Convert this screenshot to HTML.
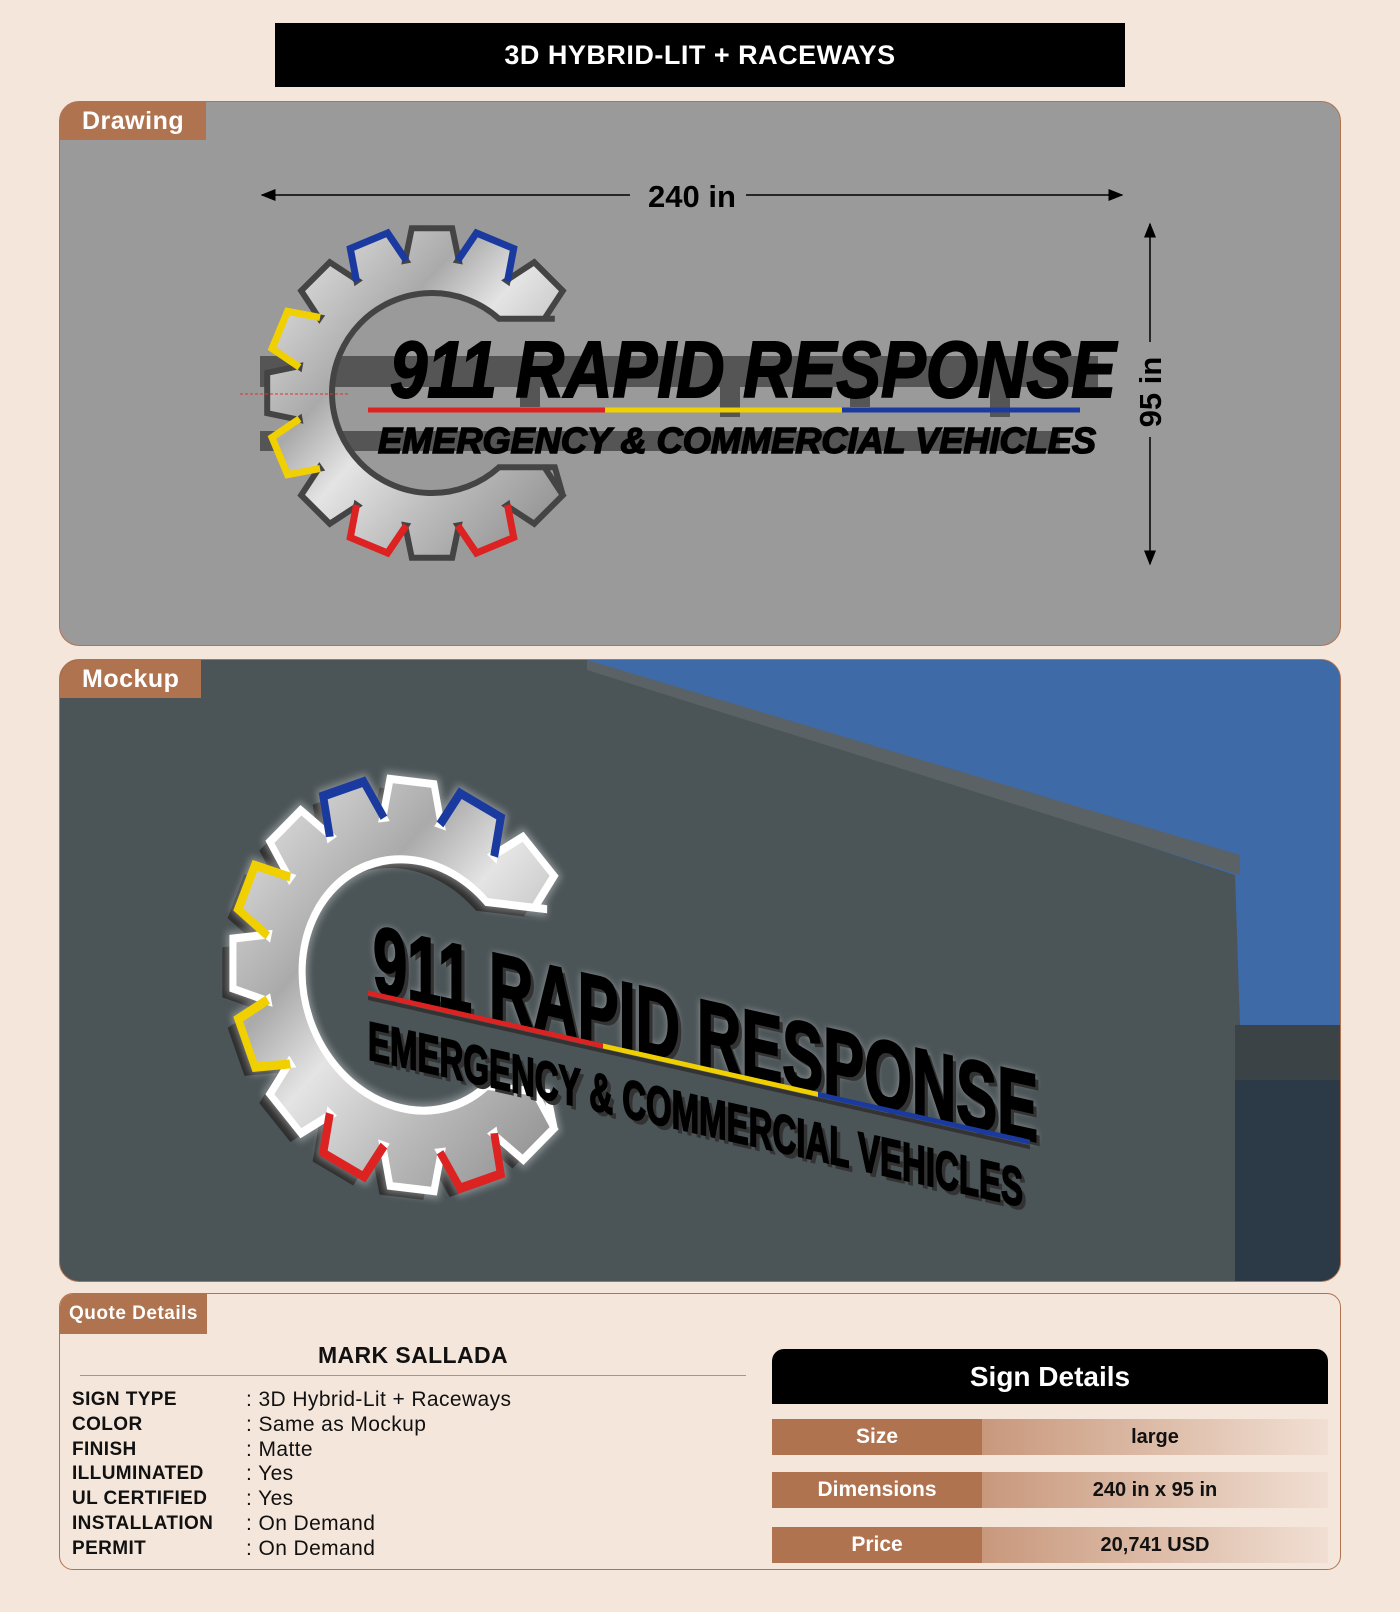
<!DOCTYPE html>
<html><head><meta charset="utf-8">
<style>
body{margin:0;width:1400px;height:1612px;background:#f5e6dc;font-family:"Liberation Sans",sans-serif;position:relative;overflow:hidden}
.title{position:absolute;left:275px;top:23px;width:850px;height:64px;background:#000;color:#fff;font-weight:bold;font-size:27px;text-align:center;line-height:64px;letter-spacing:.5px}
.panel{position:absolute;left:59px;width:1282px;border-radius:20px;overflow:hidden;border:1px solid #b07350;box-sizing:border-box}
.tab{position:absolute;left:0;top:0;background:#b07350;color:#fff;font-weight:bold;font-size:25px;padding:0 22px;height:38px;line-height:38px;z-index:5;letter-spacing:.5px}
.q{position:absolute;font-size:21px;color:#111;letter-spacing:.4px}
.rowL{position:absolute;left:772px;width:210px;height:36px;background:#b07350;color:#fff;font-weight:bold;font-size:21px;text-align:center;line-height:36px}
.rowR{position:absolute;left:982px;width:346px;height:36px;background:linear-gradient(90deg,#c8987c,#f1dfd3);color:#111;font-weight:bold;font-size:20px;text-align:center;line-height:36px}
</style></head><body>
<div class="title">3D HYBRID-LIT + RACEWAYS</div>

<div class="panel" style="top:101px;height:545px;background:#9a9a9a">
<div class="tab">Drawing</div>
<svg width="1282" height="545" style="position:absolute;left:0;top:0">
<defs>
<linearGradient id="sil" x1="0" y1="0" x2="1" y2="1"><stop offset="0" stop-color="#eee"/><stop offset=".35" stop-color="#aaa"/><stop offset=".5" stop-color="#e4e4e4"/><stop offset=".7" stop-color="#bbb"/><stop offset="1" stop-color="#888"/></linearGradient>
<marker id="ar" markerWidth="10" markerHeight="8" refX="9" refY="4" orient="auto"><path d="M0,0L10,4L0,8z" fill="#000"/></marker>
</defs>
<line x1="570" y1="93" x2="202" y2="93" stroke="#000" stroke-width="1.5" marker-end="url(#ar)"/>
<line x1="686" y1="93" x2="1062" y2="93" stroke="#000" stroke-width="1.5" marker-end="url(#ar)"/>
<text x="632" y="105" font-size="31" font-weight="bold" text-anchor="middle">240 in</text>
<line x1="1090" y1="240" x2="1090" y2="122" stroke="#000" stroke-width="1.5" marker-end="url(#ar)"/>
<line x1="1090" y1="335" x2="1090" y2="462" stroke="#000" stroke-width="1.5" marker-end="url(#ar)"/>
<text x="0" y="0" font-size="31" font-weight="bold" text-anchor="middle" transform="translate(1101,290) rotate(-90)">95 in</text>
<rect x="200" y="254" width="838" height="31" fill="#555"/>
<rect x="200" y="329" width="800" height="20" fill="#555"/>
<rect x="460" y="285" width="20" height="20" fill="#555"/>
<rect x="660" y="285" width="20" height="30" fill="#555"/>
<rect x="790" y="285" width="20" height="20" fill="#555"/>
<rect x="930" y="285" width="20" height="30" fill="#555"/>
<g id="gear1"></g>
<line x1="180" y1="292" x2="290" y2="292" stroke="#d33" stroke-dasharray="3,2"/>
<text x="330" y="295" font-size="80" font-weight="bold" font-style="italic" stroke="#000" stroke-width="2" textLength="726" lengthAdjust="spacingAndGlyphs">911 RAPID RESPONSE</text>
<line x1="308" y1="308" x2="545" y2="308" stroke="#d22" stroke-width="5"/>
<line x1="545" y1="308" x2="782" y2="308" stroke="#f0d000" stroke-width="5"/>
<line x1="782" y1="308" x2="1020" y2="308" stroke="#1a3aa0" stroke-width="5"/>
<text x="318" y="351" font-size="36" font-weight="bold" font-style="italic" stroke="#000" stroke-width="1.5" textLength="718" lengthAdjust="spacingAndGlyphs">EMERGENCY &amp; COMMERCIAL VEHICLES</text>
</svg>
</div>

<div class="panel" style="top:659px;height:623px;background:#4b5457">
<div class="tab">Mockup</div>
<svg width="1282" height="623" style="position:absolute;left:0;top:0">
<defs><filter id="glow" x="-20%" y="-20%" width="140%" height="140%"><feGaussianBlur stdDeviation="4"/></filter></defs>
<polygon points="527,0 1282,0 1282,365 1180,365 1175,215" fill="#3e6aa8"/>
<polygon points="527,0 1180,195 1180,215 527,10" fill="#5a6266"/>
<rect x="1175" y="365" width="107" height="258" fill="#3b4347"/>
<rect x="1175" y="420" width="107" height="203" fill="#2c3a48"/>
<g id="gear2"></g>
<g transform="translate(308,333) skewY(12.7)">
<text x="5" y="-2" font-size="96" font-weight="bold" fill="#fff" opacity=".5" filter="url(#glow)" textLength="665" lengthAdjust="spacingAndGlyphs">911 RAPID RESPONSE</text>
<text x="9" y="2" font-size="96" font-weight="bold" fill="#333" textLength="665" lengthAdjust="spacingAndGlyphs">911 RAPID RESPONSE</text>
<text x="5" y="-2" font-size="96" font-weight="bold" stroke="#000" stroke-width="2.5" textLength="665" lengthAdjust="spacingAndGlyphs">911 RAPID RESPONSE</text>
<line x1="0" y1="0" x2="235" y2="0" stroke="#d22" stroke-width="5"/>
<line x1="235" y1="0" x2="450" y2="0" stroke="#f0d000" stroke-width="5"/>
<line x1="450" y1="0" x2="662" y2="0" stroke="#1a3aa0" stroke-width="5"/>
<line x1="0" y1="5" x2="662" y2="5" stroke="#333" stroke-width="4"/>
<text x="0" y="66" font-size="54" font-weight="bold" fill="#333" transform="translate(4,4)" textLength="655" lengthAdjust="spacingAndGlyphs">EMERGENCY &amp; COMMERCIAL VEHICLES</text>
<text x="0" y="66" font-size="54" font-weight="bold" fill="#000" stroke="#000" stroke-width="2" textLength="655" lengthAdjust="spacingAndGlyphs">EMERGENCY &amp; COMMERCIAL VEHICLES</text>
</g>
</svg>
</div>

<div class="panel" style="top:1293px;height:277px;background:#f5e6dc;border-radius:14px">
<div class="tab" style="font-size:19px;height:40px;line-height:40px;padding:0 9px">Quote Details</div>
</div>
<div class="q" style="left:80px;top:1342px;width:666px;text-align:center;font-weight:bold;font-size:23px">MARK SALLADA</div>
<div style="position:absolute;left:80px;top:1375px;width:666px;height:1px;background:#999"></div>
<div class="q" style="left:72px;top:1388px;line-height:24.8px;font-weight:bold;font-size:19px">SIGN TYPE<br>COLOR<br>FINISH<br>ILLUMINATED<br>UL CERTIFIED<br>INSTALLATION<br>PERMIT</div>
<div class="q" style="left:246px;top:1388px;line-height:24.8px">: 3D Hybrid-Lit + Raceways<br>: Same as Mockup<br>: Matte<br>: Yes<br>: Yes<br>: On Demand<br>: On Demand</div>

<div style="position:absolute;left:772px;top:1349px;width:556px;height:55px;background:#000;color:#fff;font-weight:bold;font-size:28px;text-align:center;line-height:55px;border-radius:12px 12px 0 0">Sign Details</div>
<div class="rowL" style="top:1419px">Size</div><div class="rowR" style="top:1419px">large</div>
<div class="rowL" style="top:1472px">Dimensions</div><div class="rowR" style="top:1472px">240 in x 95 in</div>
<div class="rowL" style="top:1527px">Price</div><div class="rowR" style="top:1527px">20,741 USD</div>

<script>
function P(cx,cy,a,rad){var t=a*Math.PI/180;return [cx+rad*Math.cos(t),cy+rad*Math.sin(t)];}
function gear(id,cx,cy,R,r,ri,stroke,sw,colors,tf,shadow){
 var g=document.getElementById(id),ns="http://www.w3.org/2000/svg";
 g.setAttribute("transform",tf||"");
 var step=22.5,tw=7,bw=11.5,pts=[];
 for(var a=45;a<=315;a+=step){
  [[a-bw,r],[a-tw,R],[a+tw,R],[a+bw,r]].forEach(function(p){pts.push(P(cx,cy,p[0],p[1]));});
 }
 var dy=r*0.55, ix=Math.sqrt(ri*ri-dy*dy);
 var end=P(cx,cy,315+tw,R), st=P(cx,cy,45-tw,R);
 var d="M"+st[0].toFixed(1)+","+st[1].toFixed(1);
 pts.forEach(function(p){d+=" L"+p[0].toFixed(1)+","+p[1].toFixed(1);});
 d+=" L"+(end[0]-8).toFixed(1)+","+(cy-dy).toFixed(1)+" L"+(cx+ix).toFixed(1)+","+(cy-dy).toFixed(1);
 d+=" A"+ri+","+ri+" 0 1 0 "+(cx+ix).toFixed(1)+","+(cy+dy).toFixed(1);
 d+=" L"+(st[0]-8).toFixed(1)+","+(cy+dy).toFixed(1)+" Z";
 if(shadow){var s=document.createElementNS(ns,"path");s.setAttribute("d",d);s.setAttribute("fill","#2e2e2e");s.setAttribute("transform","translate(-12,10)");g.appendChild(s);
  var gl=document.createElementNS(ns,"path");gl.setAttribute("d",d);gl.setAttribute("fill","none");gl.setAttribute("stroke","#fff");gl.setAttribute("stroke-width","14");gl.setAttribute("opacity",".35");gl.setAttribute("filter","url(#glow)");g.appendChild(gl);}
 var p=document.createElementNS(ns,"path");p.setAttribute("d",d);p.setAttribute("fill","url(#sil)");p.setAttribute("stroke",stroke);p.setAttribute("stroke-width",sw);p.setAttribute("stroke-linejoin","miter");g.appendChild(p);
 for(var k in colors){var a=+k,q=[[a-bw,r],[a-tw,R],[a+tw,R],[a+bw,r]].map(function(p){var v=P(cx,cy,p[0],p[1]);return v[0].toFixed(1)+","+v[1].toFixed(1)});
  var pl=document.createElementNS(ns,"polyline");pl.setAttribute("points",q.join(" "));
  pl.setAttribute("fill","none");pl.setAttribute("stroke",colors[k]);pl.setAttribute("stroke-width",sw+1);g.appendChild(pl);}
}
var cols={247.5:"#1a3aa0",292.5:"#1a3aa0",67.5:"#d22",112.5:"#d22",157.5:"#f0d000",202.5:"#f0d000"};
gear("gear1",372,291,166,135,100,"#444",6,cols,"",false);
gear("gear2",0,0,205,167,125,"#fff",8,cols,"translate(352,325) scale(0.88,1) skewY(6)",true);
</script>
</body></html>
